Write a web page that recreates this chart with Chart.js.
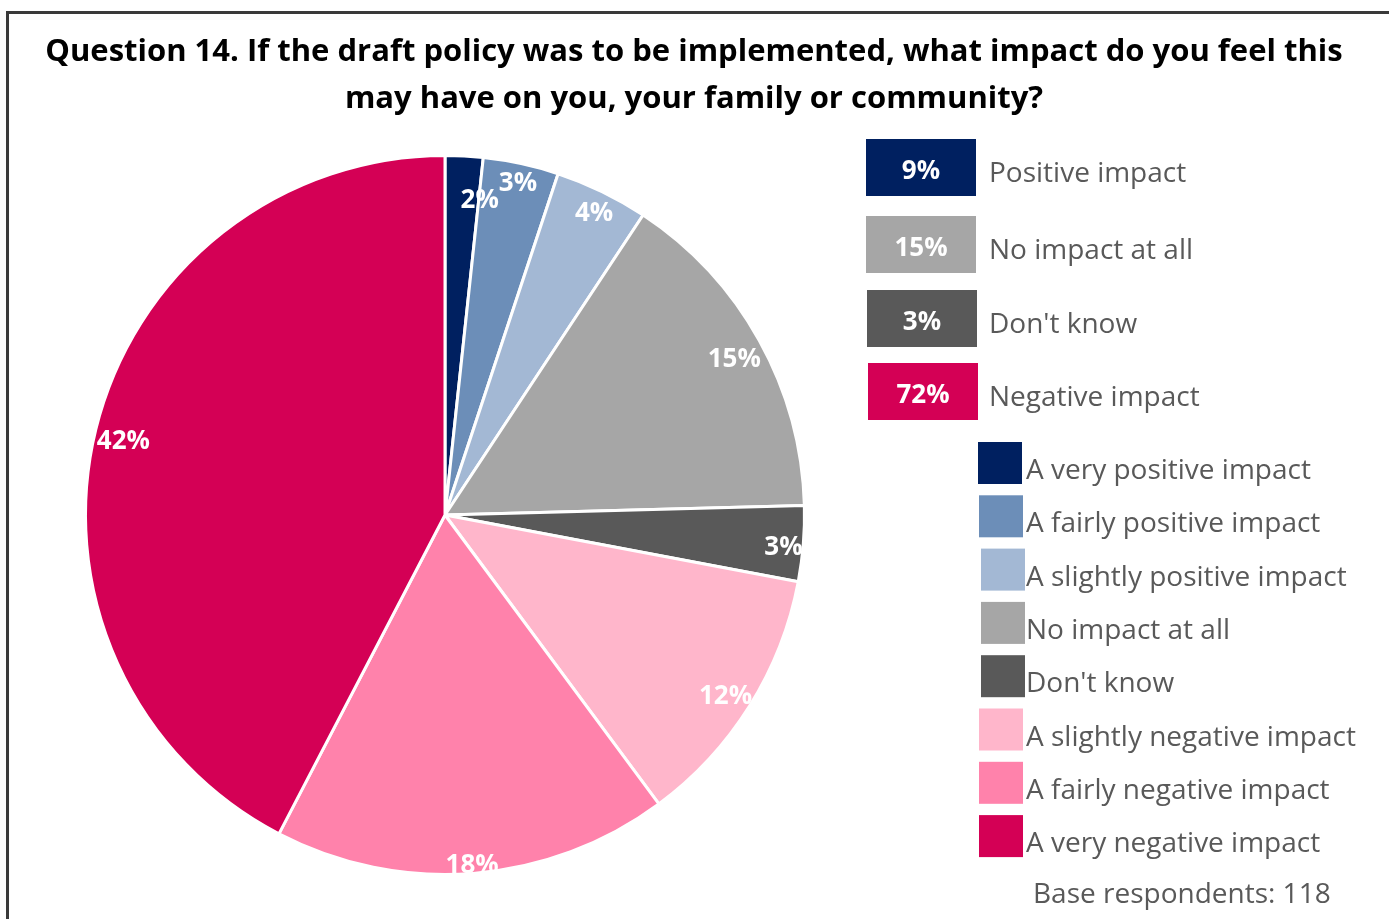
<!DOCTYPE html>
<html>
<head>
<meta charset="utf-8">
<script src="https://cdn.jsdelivr.net/npm/chart.js@4/dist/chart.umd.min.js"></script>
<style>
  html, body { margin: 0; padding: 0; background: #ffffff; }
  #wrap { width: 1389px; height: 919px; position: relative; }
</style>
</head>
<body>
<div id="wrap"><canvas id="c" width="1389" height="919"></canvas></div>
<script>
// ---- Data ----
const titleLines = ['Question 14. If the draft policy was to be implemented, what impact do you feel this', 'may have on you, your family or community?'];
const categories = ['A very positive impact', 'A fairly positive impact', 'A slightly positive impact', 'No impact at all', "Don't know", 'A slightly negative impact', 'A fairly negative impact', 'A very negative impact'];
const shares = [1.7, 3.4, 4.2, 15.3, 3.4, 11.9, 17.8, 42.4];
const summaryLabels = ['Positive impact', 'No impact at all', "Don't know", 'Negative impact'];
const summaryValues = [9, 15, 3, 72];
const baseNote = 'Base respondents: 118';

// ---- Styles ----
const sliceColors = ['#002060', '#6C8EB8', '#A3B8D4', '#A6A6A6', '#595959', '#FFB6CB', '#FF82AB', '#D40055'];
const summaryColors = ['#002060', '#A6A6A6', '#595959', '#D40055'];
const FONT = '"Open Sans", "Noto Sans", sans-serif';
const TEXT_GREY = '#595959';

const decorPlugin = {
  id: 'decor',
  beforeDraw(chart) {
    const ctx = chart.ctx;
    ctx.save();
    ctx.fillStyle = '#ffffff';
    ctx.fillRect(0, 0, chart.width, chart.height);
    ctx.strokeStyle = '#3a3a3a';
    ctx.lineWidth = 3;
    ctx.strokeRect(7.5, 12.5, chart.width + 20, chart.height + 20);
    ctx.fillStyle = '#000000';
    ctx.font = 'bold 31px ' + FONT;
    ctx.textAlign = 'center';
    ctx.textBaseline = 'alphabetic';
    ctx.fillText(titleLines[0], 694, 61);
    ctx.fillText(titleLines[1], 694, 108);
    ctx.restore();
  },
  afterDraw(chart) {
    const ctx = chart.ctx;
    ctx.save();
    const boxTops = [139, 216, 290, 363];
    const boxLefts = [866, 866, 867, 868];
    summaryLabels.forEach((lab, i) => {
      const x = boxLefts[i], y = boxTops[i];
      ctx.fillStyle = summaryColors[i];
      ctx.fillRect(x, y, 110, 57);
      ctx.fillStyle = '#ffffff';
      ctx.font = 'bold 26px ' + FONT;
      ctx.textAlign = 'center';
      ctx.textBaseline = 'alphabetic';
      ctx.fillText(summaryValues[i] + '%', x + 55, y + 40);
      ctx.fillStyle = TEXT_GREY;
      ctx.font = '28px ' + FONT;
      ctx.textAlign = 'left';
      ctx.fillText(lab, 989, y + 43);
    });
    const swX = [978, 979, 981, 981, 981, 979, 979, 979];
    categories.forEach((lab, i) => {
      const top = 442 + i * 53.3;
      ctx.fillStyle = sliceColors[i];
      ctx.fillRect(swX[i], top, 44, 42);
      ctx.fillStyle = TEXT_GREY;
      ctx.font = '28px ' + FONT;
      ctx.textAlign = 'left';
      ctx.textBaseline = 'alphabetic';
      ctx.fillText(lab, 1026, top + 37);
    });
    ctx.font = '28px ' + FONT;
    ctx.fillStyle = TEXT_GREY;
    ctx.textAlign = 'left';
    ctx.fillText(baseNote, 1033, 903);
    ctx.restore();
  },
  afterDatasetsDraw(chart) {
    const ctx = chart.ctx;
    const meta = chart.getDatasetMeta(0);
    ctx.save();
    ctx.font = 'bold 26px ' + FONT;
    ctx.fillStyle = '#ffffff';
    ctx.textAlign = 'center';
    ctx.textBaseline = 'alphabetic';
    const h = 22, pad = 10;
    // inside-end placement: label box touches the outer edge along the mid-angle ray
    const labels = meta.data.map((arc, i) => {
      const p = arc.getProps(['x', 'y', 'startAngle', 'endAngle', 'outerRadius'], true);
      const mid = (p.startAngle + p.endAngle) / 2;
      const txt = Math.round(shares[i]) + '%';
      const w = ctx.measureText(txt).width;
      const cs = Math.cos(mid), sn = Math.sin(mid);
      const d = p.outerRadius - (Math.abs(cs) * w / 2 + Math.abs(sn) * h / 2);
      return { txt, w, x: p.x + cs * d, y: p.y + sn * d };
    });
    // simple overlap resolution with the following label
    for (let i = 0; i < labels.length - 1; i++) {
      const a = labels[i], b = labels[i + 1];
      const ox = (a.w + b.w) / 2 + 2 * pad - Math.abs(a.x - b.x);
      const oy = h + 2 * pad - Math.abs(a.y - b.y);
      if (ox > 0 && oy > 0) {
        a.x = b.x - a.w;
        a.y = b.y + h * 0.75;
      }
    }
    labels.forEach(l => ctx.fillText(l.txt, l.x, l.y + 13));
    ctx.restore();
  }
};

new Chart(document.getElementById('c'), {
  type: 'pie',
  data: {
    labels: categories,
    datasets: [{
      data: shares,
      backgroundColor: sliceColors,
      borderColor: '#ffffff',
      borderWidth: 3
    }]
  },
  options: {
    responsive: false,
    animation: false,
    devicePixelRatio: 1,
    layout: { padding: { left: 84, top: 154, right: 583, bottom: 43 } },
    plugins: {
      legend: { display: false },
      title: { display: false },
      tooltip: { enabled: false }
    }
  },
  plugins: [decorPlugin]
});
</script>
</body>
</html>
